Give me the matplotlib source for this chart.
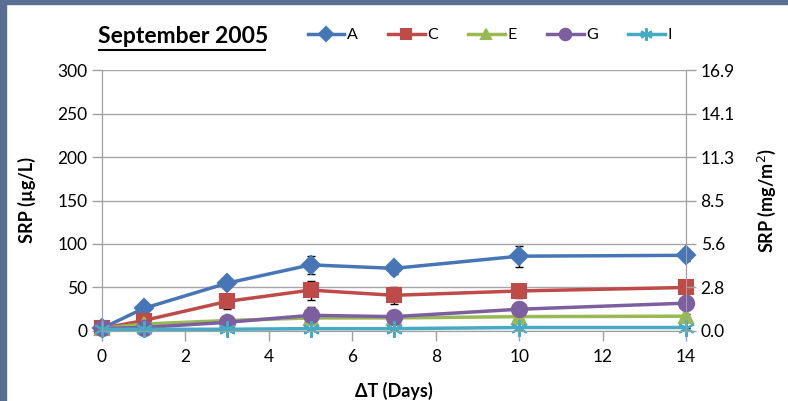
import numpy as np
import matplotlib
matplotlib.use('Agg')
import matplotlib.pyplot as plt
from matplotlib.lines import Line2D

plt.rcParams['font.family'] = ['Lato', 'DejaVu Sans']

# Data
days = [0, 1, 3, 5, 7, 10, 14]
series = ['A', 'C', 'E', 'G', 'I']
srp_A = [3, 26, 55, 76, 72, 86, 87]
srp_C = [3, 12, 34, 47, 41, 46, 50]
srp_E = [3, 8, 12, 15, 15, 16.5, 17]
srp_G = [3, 4, 10, 18, 16.5, 25, 32]
srp_I = [2, 2, 2, 2.7, 2.7, 4, 4]
err_A = [0, 7, 5, 10, 6, 12, 7]
err_C = [0, 3, 9, 11, 10, 8, 8]
err_E = [0, 2, 2, 3, 3, 3, 3]
err_G = [0, 2, 3, 10, 7, 8, 8]
err_I = [0, 1, 1, 1, 1, 1, 1]
left_ticks = [0, 50, 100, 150, 200, 250, 300]
right_ticks = ['0.0', '2.8', '5.6', '8.5', '11.3', '14.1', '16.9']

values = [srp_A, srp_C, srp_E, srp_G, srp_I]
errors = [err_A, err_C, err_E, err_G, err_I]
colors = ['#4676B6', '#BE4B48', '#98B954', '#7D5FA0', '#46AAC5']
markers = ['D', 's', '^', 'o', (6, 2, 0)]
msizes = [9, 10.5, 10, 11, 12]

fig = plt.figure(figsize=(7.88, 4.01), dpi=100)
ax = fig.add_axes([0.1294, 0.1746, 0.7412, 0.6508])

handles = []
for name, y, e, c, m, ms in zip(series, values, errors, colors, markers, msizes):
    ax.errorbar(days, y, yerr=e, fmt='none', ecolor='black', elinewidth=1,
                capsize=3, capthick=1, zorder=2, clip_on=False)
    ln, = ax.plot(days, y, color=c, lw=2.5, marker=m, ms=ms, mfc=c, mec=c,
                  mew=1.5, zorder=3, clip_on=False, label=name)
    handles.append(ln)

ax.set_xlim(0, 14)
ax.set_ylim(0, 300)
ax.set_xticks([0, 2, 4, 6, 8, 10, 12, 14])
ax.set_yticks(left_ticks)
ax.grid(axis='y', color='#a6a6a6', lw=1)
ax.set_axisbelow(True)
ax.spines['top'].set_visible(False)
for s in ['left', 'right', 'bottom']:
    ax.spines[s].set_color('#a0a0a0')
ax.tick_params(axis='both', colors='#a0a0a0', labelcolor='black', labelsize=12.5,
               length=7, width=1)
ax.tick_params(axis='x', pad=6)
ax.set_xlabel('ΔT (Days)', fontsize=13, fontweight='bold', labelpad=12)
ax.set_ylabel('SRP (µg/L)', fontsize=13, fontweight='bold', labelpad=15)

ax2 = ax.twinx()
ax2.set_ylim(0, 300)
ax2.set_yticks(left_ticks)
ax2.set_yticklabels(right_ticks)
ax2.spines['top'].set_visible(False)
for s in ['left', 'right', 'bottom']:
    ax2.spines[s].set_color('#a0a0a0')
ax2.tick_params(axis='y', colors='#a0a0a0', labelcolor='black', labelsize=12.5,
                length=7, width=1)
ax2.set_ylabel('SRP (mg/m$^2$)', fontsize=13, fontweight='bold', labelpad=15)

fig.text(0.125, 0.908, 'September 2005', fontsize=16.5, fontweight='bold',
         ha='left', va='center')
fig.add_artist(Line2D([0.125, 0.336], [0.876, 0.876], color='black', lw=1.5))

fig.legend(handles=handles, loc='center left', bbox_to_anchor=(0.372, 0.912),
           ncol=5, frameon=False, fontsize=11.5, handlelength=2.3,
           columnspacing=1.9, handletextpad=0.15, markerscale=0.75)

# window frame strips
fig.add_artist(plt.Rectangle((0, 0), 0.008, 1, color='#5b6f95', transform=fig.transFigure))
fig.add_artist(plt.Rectangle((0, 0.99), 1, 0.01, color='#5b6f95', transform=fig.transFigure))

fig.savefig('out.png', dpi=100)
